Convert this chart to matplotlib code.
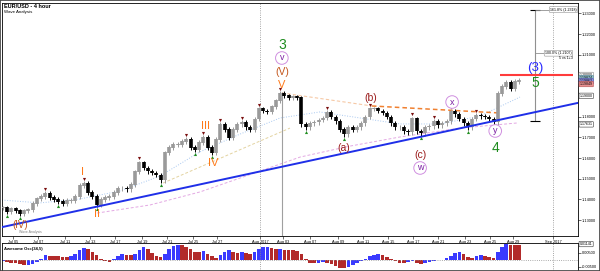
import numpy as np
import matplotlib.pyplot as plt
from matplotlib.patches import Rectangle

plt.rcParams['font.family'] = ['Liberation Sans', 'DejaVu Sans']

# EUR/USD closes, one value per 8 hours, Jul 04 - Aug 28 2017
closes = [
    1.1359, 1.1340, 1.1354, 1.1344, 1.1330, 1.1344, 1.1349, 1.1379, 1.1403, 1.1413,
    1.1428, 1.1408, 1.1399, 1.1389, 1.1379, 1.1394, 1.1394, 1.1413, 1.1467, 1.1477,
    1.1433, 1.1413, 1.1374, 1.1399, 1.1408, 1.1413, 1.1433, 1.1453, 1.1453, 1.1448,
    1.1472, 1.1532, 1.1576, 1.1551, 1.1536, 1.1527, 1.1517, 1.1492, 1.1625, 1.1650,
    1.1665, 1.1665, 1.1679, 1.1689, 1.1650, 1.1640, 1.1674, 1.1699, 1.1650, 1.1625,
    1.1689, 1.1763, 1.1738, 1.1699, 1.1738, 1.1763, 1.1773, 1.1748, 1.1738, 1.1788,
    1.1837, 1.1827, 1.1822, 1.1847, 1.1876, 1.1911, 1.1901, 1.1891, 1.1896, 1.1891,
    1.1763, 1.1748, 1.1768, 1.1773, 1.1783, 1.1793, 1.1822, 1.1798, 1.1778, 1.1738,
    1.1714, 1.1748, 1.1738, 1.1748, 1.1768, 1.1798, 1.1837, 1.1837, 1.1827, 1.1817,
    1.1798, 1.1768, 1.1748, 1.1748, 1.1729, 1.1724, 1.1790, 1.1729, 1.1719, 1.1748,
    1.1753, 1.1778, 1.1758, 1.1768, 1.1778, 1.1827, 1.1812, 1.1788, 1.1768, 1.1748,
    1.1788, 1.1807, 1.1802, 1.1798, 1.1788, 1.1773, 1.1911, 1.1945, 1.1965, 1.1935,
    1.1970, 1.1975,
]

# Awesome Oscillator (34,5), same bars, in units of 0.001
ao_vals = [
    -1.0, -1.3, -1.8, -2.5, -3.2, -3.6, -3.4, -2.6, -1.2, 1.0,
    3.5, 3.2, 2.8, 2.5, 2.2, 2.0, 3.0, 4.5, 7.0, 8.6,
    7.6, 5.8, 3.5, 0.5, -1.0, -1.5, 0.5, 2.5, 4.3, 3.8,
    3.5, 4.0, 7.0, 9.0, 7.5, 5.0, 3.0, 2.1, 4.5, 8.0,
    10.2, 10.7, 10.5, 9.5, 7.5, 5.7, 5.5, 6.2, 4.5, 2.5,
    1.4, 3.5, 6.0, 7.1, 6.0, 5.3, 5.8, 5.0, 4.4, 6.0,
    7.8, 9.0, 9.3, 8.4, 7.6, 7.8, 7.4, 7.0, 6.8, 6.5,
    4.0, 0.5, -2.0, -2.4, -1.8, -1.5, -1.9, -3.0, -4.5, -5.4,
    -5.7, -4.8, -3.5, -2.2, -1.0, 0.5, 2.5, 3.8, 4.3, 3.8,
    2.2, 0.5, -1.0, -1.8, -2.0, -1.6, -1.0, -1.8, -2.6, -2.0,
    -1.4, -0.6, 0.0, 0.3, 1.2, 3.0, 4.8, 5.6, 4.2, 1.8,
    1.2, 2.6, 3.6, 3.0, 2.0, 1.4, 5.5, 9.0, 11.4, 11.0,
    10.7, 10.6,
]

# fractal markers (bar indexes)
swing_high_idx = [10, 19, 32, 43, 47, 51, 56, 60, 65, 76, 86, 96, 101, 105, 111]
swing_low_idx = [1, 4, 13, 22, 37, 45, 49, 71, 80, 98, 109, 115]

date_labels = ['Jul 05', 'Jul 07', 'Jul 11', 'Jul 13', 'Jul 17', 'Jul 19', 'Jul 21',
               'Jul 25', 'Jul 27', 'Aug 2017', 'Aug 03', 'Aug 07', 'Aug 09', 'Aug 11',
               'Aug 15', 'Aug 17', 'Aug 21', 'Aug 23', 'Aug 25', 'Aug 29', 'Sep 2017']
date_pos = [2.4, 8.3, 14.6, 20.4, 26.3, 32.6, 38.5, 44.6, 50.2, 60.3, 65.7,
            72.0, 78.6, 84.4, 90.3, 96.2, 102.0, 108.3, 114.2, 119.6, 129.0]
price_ticks = [1.13, 1.14, 1.15, 1.16, 1.17, 1.18, 1.21, 1.22, 1.23]

# wave counts: (text, bar, price, colour, size)
wave_labels = [
    ('(IV)', 4.0, 1.1276, '#c4561c', 7),
    ('I', 18.8, 1.1533, '#ff7a1a', 8),
    ('II', 22.1, 1.1329, '#ff7a1a', 8),
    ('III', 47.4, 1.1755, '#ff7a1a', 8),
    ('IV', 49.3, 1.1576, '#ff7a1a', 8),
    ('V', 65.4, 1.1953, '#ff7a1a', 8),
    ('(V)', 65.4, 1.2016, '#c4561c', 7.5),
    ('3', 65.4, 1.2147, '#1e8c1e', 10),
    ('(a)', 80.0, 1.1649, '#9b1c1c', 7.5),
    ('(b)', 86.3, 1.1891, '#9b1c1c', 7.5),
    ('(c)', 97.8, 1.1615, '#9b1c1c', 7.5),
    ('4', 115.4, 1.1649, '#1e8c1e', 10),
    ('(3)', 124.7, 1.2036, '#2a2aff', 9.5),
    ('5', 124.7, 1.1963, '#1e8c1e', 10),
]
circle_labels = [('v', 65.4, 1.2084), ('w', 97.8, 1.1552),
                 ('x', 105.3, 1.1871), ('y', 115.4, 1.1731)]

idx = np.arange(len(closes))
c = np.array(closes)
o = np.concatenate([[c[0]], c[:-1]])
wick = 0.0011
hi = np.maximum(o, c) + wick
lo = np.minimum(o, c) - wick
up = c >= o
cols = np.where(up, '#9a9a9a', '#000000')

fig = plt.figure(figsize=(6, 2.71), dpi=100)
ax = fig.add_axes([2 / 600, 35 / 271, 576 / 600, 233 / 271])
ax.set_xlim(-0.18, 134.8)
ax.set_ylim(1.1223, 1.2350)

# moving averages / helper lines
ax.plot([22.1, 34.5, 46.2, 60.3, 69.7, 81.4, 93.1, 107.2, 120.7],
        [1.1334, 1.1373, 1.1436, 1.1537, 1.1605, 1.1658, 1.1702, 1.1745, 1.1770],
        color='#e3a8e3', lw=0.7, ls='--', dashes=(3, 2))
ax.plot([-0.18, 8.73, 18.1, 27.5, 36.85, 46.2, 55.6, 65.0, 74.3, 83.7, 93.1, 102.5, 111.8, 121.2],
        [1.1397, 1.1383, 1.1402, 1.1441, 1.1513, 1.1630, 1.1716, 1.1794, 1.1823,
         1.1794, 1.1765, 1.1765, 1.1803, 1.1895],
        color='#a8c8f0', lw=0.7, ls=':')
ax.plot([37.55, 67.3], [1.1479, 1.1745], color='#e3d3a0', lw=0.7, ls='--', dashes=(3, 2))
ax.plot([65.4, 86.5], [1.1915, 1.1852], color='#f6c9a6', lw=0.8, ls='--', dashes=(3, 2))
ax.plot([86.5, 116.5], [1.1852, 1.1818], color='#f08030', lw=1.1, ls='--', dashes=(3, 2))

# separators and V line
for xs in (60.3, 129.0):
    ax.axvline(xs, color='#888888', lw=0.6, ls=':')
ax.vlines(65.4, 1.1223, 1.1920, color='#a0a0a0', lw=0.8)

# candles
ax.vlines(idx, lo, hi, colors=cols, lw=0.7, zorder=3)
ax.vlines(idx, np.minimum(o, c), np.maximum(o, c) + 0.0003, colors=cols, lw=2.6, zorder=3)
ax.scatter(np.array(swing_high_idx), hi[swing_high_idx] + 0.0011, marker='v', s=5,
           color='#7a1010', linewidths=0, zorder=4)
ax.scatter(np.array(swing_low_idx), lo[swing_low_idx] - 0.0011, marker='^', s=5,
           color='#1f8f1f', linewidths=0, zorder=4)

# trendline and resistance
ax.plot([-0.18, 134.6], [1.1266, 1.1866], color='#1f2fe8', lw=1.4, zorder=5)
ax.hlines(1.2002, 116.5, 133.6, color='#ff3b3b', lw=1.5, zorder=5)

# fib measure
ax.vlines(124.7, 1.1779, 1.2318, color='#909090', lw=0.8)
ax.hlines([1.2318, 1.1779], 123.6, 125.8, color='black', lw=0.8)
ax.hlines(1.2318, 124.7, 128.3, color='#909090', lw=0.6)
ax.hlines(1.2107, 124.7, 127.1, color='#909090', lw=0.6)
box = dict(boxstyle='round,pad=0.25', fc='white', ec='#909090', lw=0.4)
ax.text(128.3, 1.2318, '161.8% (1.2318)', fontsize=2.6, va='center', ha='left', bbox=box)
ax.text(127.1, 1.2107, '100.0% (1.2107)', fontsize=2.6, va='center', ha='left', bbox=box)
ax.text(133.6, 1.2086, '5 vs 1+3', fontsize=2.6, va='center', ha='right')

for txt, xb, yp, col, fs in wave_labels:
    ax.text(xb, yp, txt, color=col, fontsize=fs, ha='center', va='center', zorder=6)
for txt, xb, yp in circle_labels:
    ax.text(xb, yp, txt, color='#7b1fa2', fontsize=6.5, ha='center', va='center', zorder=6,
            bbox=dict(boxstyle='circle,pad=0.2', fc='white', ec='#d090e0', lw=0.7))

ax.text(0.03, 0.012, 'Wave Analysis', transform=ax.transAxes, fontsize=2.5, color='#808080')

ax.yaxis.tick_right()
ax.set_yticks(price_ticks)
ax.set_yticklabels([f'{p:.5f}' for p in price_ticks])
ax.set_xticks(date_pos)
ax.set_xticklabels(date_labels)
ax.tick_params(axis='both', labelsize=2.8, length=2, width=0.4, pad=1)
for s in ax.spines.values():
    s.set_linewidth(0.6)

# right price boxes
right_boxes = [('1.20000', 1.2002, 'white', '#808080'),
               ('1.19874', 1.1987, '#8fc0cc', '#5a8a99'),
               ('1.19862', 1.1972, '#8f8fdd', '#5555aa'),
               ('1.19849', 1.1958, '#e89090', '#b05050'),
               ('1.19000', 1.1901, 'white', '#333333'),
               ('1.17631', 1.1763, 'white', '#333333')]
tr = ax.get_yaxis_transform()
for txt, yp, fc, ec in right_boxes:
    ax.text(1.003, yp, txt, transform=tr, fontsize=2.6, va='center', ha='left',
            bbox=dict(boxstyle='round,pad=0.2', fc=fc, ec=ec, lw=0.4), clip_on=False)

# Awesome oscillator panel
ax2 = fig.add_axes([2 / 600, 0, 576 / 600, 28 / 271])
ax2.set_xlim(-0.18, 134.8)
ax2.set_ylim(-0.00786, 0.01214)
aov = np.array(ao_vals) * 1e-3
rising = np.concatenate([[True], np.diff(aov) >= 0])
ax2.bar(idx, aov, width=0.85, color=np.where(rising, '#3a3aff', '#b22a2a'), linewidth=0)
ax2.axhline(0, color='#909090', lw=0.6, ls=':')
for xs in (60.3, 129.0):
    ax2.axvline(xs, color='#888888', lw=0.6, ls=':')
ax2.text(0.004, 0.8, 'Awesome Osc(34,5)', transform=ax2.transAxes, fontsize=3,
         fontweight='bold', va='center')
ax2.yaxis.tick_right()
ax2.set_yticks([-0.005, 0.005])
ax2.set_yticklabels(['-0.00500', '0.00500'])
ax2.set_xticks([])
ax2.tick_params(axis='y', labelsize=2.8, length=2, width=0.4, pad=1)
ax2.text(1.003, 0.0114, '0.01141', transform=ax2.get_yaxis_transform(), fontsize=2.6,
         va='center', ha='left', clip_on=False,
         bbox=dict(boxstyle='round,pad=0.2', fc='white', ec='#333333', lw=0.4))
for s in ax2.spines.values():
    s.set_linewidth(0.6)

fig.text(4 / 600, 1 - 6.5 / 271, 'EUR/USD - 4 hour', fontsize=4, fontweight='bold', va='center')
fig.text(4 / 600, 1 - 12 / 271, 'Wave Analysis', fontsize=3.2, va='center')
fig.patches.append(Rectangle((0, 0), 1, 1, transform=fig.transFigure, fill=False,
                             ec='#404040', lw=1.2))

fig.savefig('out.png', dpi=100)
